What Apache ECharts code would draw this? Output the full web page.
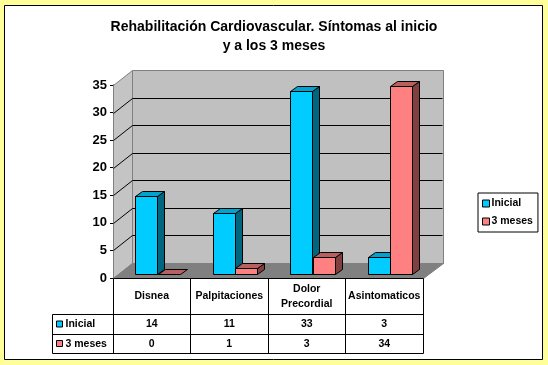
<!DOCTYPE html>
<html><head><meta charset="utf-8">
<style>html,body{margin:0;padding:0;background:#FFFF99}#c{width:548px;height:365px}</style>
<script src="https://cdn.jsdelivr.net/npm/echarts@6/dist/echarts.min.js"></script>
</head><body><div id="c"></div>
<script>
const categories = ['Disnea', 'Palpitaciones', 'Dolor\nPrecordial', 'Asintomaticos'];
const inicial = [14, 11, 33, 3];
const tresMeses = [0, 1, 3, 34];
const titleText = 'Rehabilitación Cardiovascular. Síntomas al inicio\ny a los 3 meses';
const seriesNames = ['Inicial', '3 meses'];
const yTicks = [0, 5, 10, 15, 20, 25, 30, 35];

const FONT = '"Liberation Sans", Arial, sans-serif';
const COL = {
  blue: { front: '#00CCFF', top: '#00A3CC', side: '#006680' },
  pink: { front: '#FF8080', top: '#B86060', side: '#804040' }
};
const DX = 19, DY = 15;              // wall depth
const BAR_W = 22.4, BD_X = 7, BD_Y = 5, BAR_OX = 6, BAR_OY = 4;

const chart = echarts.init(document.getElementById('c'), null, { renderer: 'canvas' });

function ln(x1, y1, x2, y2, stroke, w) {
  return { type: 'line', silent: true, shape: { x1, y1, x2, y2 }, style: { stroke, lineWidth: w || 1 } };
}
function poly(points, fill, stroke) {
  return { type: 'polygon', silent: true, shape: { points }, style: { fill, stroke: stroke || 'none', lineWidth: 1 } };
}
function txt(x, y, text, extra) {
  return { type: 'text', silent: true, style: Object.assign({ x, y, text, fill: '#000', font: 'bold 10.5px ' + FONT, align: 'center', verticalAlign: 'middle' }, extra || {}) };
}
const px = v => Math.round(v) + 0.5;

function renderBackdrop(params, api) {
  const o = api.coord([0, 0]), band = api.size([1, 0])[0];
  const x0 = px(o[0] - band / 2), y0 = px(o[1]);
  const yTop = px(api.coord([0, 35])[1]);
  const colX = i => Math.floor(x0 + band * i - 0.5) + 0.5;
  const x1 = colX(4);
  const wallR = x1 + DX + 1;
  const kids = [];
  kids.push(poly([[x0, yTop], [x0 + DX, yTop - DY], [x0 + DX, y0 - DY], [x0, y0]], '#C4C4C4', '#808080'));
  kids.push({ type: 'rect', silent: true, shape: { x: x0 + DX, y: yTop - DY, width: wallR - x0 - DX, height: y0 - yTop }, style: { fill: '#C0C0C0', stroke: '#808080', lineWidth: 1 } });
  kids.push(poly([[x0, y0], [x1, y0], [wallR, y0 - DY], [x0 + DX, y0 - DY]], '#808080', '#808080'));
  yTicks.forEach(t => {
    if (t === 0 || t === 35) return;
    const y = px(api.coord([0, t])[1]);
    kids.push(ln(x0, y, x0 + DX, y - DY, '#000'));
    kids.push(ln(x0 + DX, y - DY, wallR - 1, y - DY, '#000'));
  });
  // data table
  const r1 = y0 + 36, r2 = r1 + 20, r3 = r2 + 19, xl = px(x0 - 62);
  kids.push(ln(x0, y0, x1, y0, '#000'));
  kids.push(ln(xl, r1, x1, r1, '#000'));
  kids.push(ln(xl, r2, x1, r2, '#000'));
  kids.push(ln(xl, r3, x1, r3, '#000'));
  kids.push(ln(xl, r1, xl, r3, '#000'));
  for (let i = 0; i <= 4; i++) {
    const x = colX(i);
    kids.push(ln(x, y0, x, r3, '#000'));
  }
  categories.forEach((c, i) => {
    const cx = api.coord([i, 0])[0];
    kids.push(txt(cx, (r1 + r2) / 2, String(inicial[i])));
    kids.push(txt(cx, (r2 + r3) / 2, String(tresMeses[i])));
  });
  [[seriesNames[0], COL.blue.front, r1, r2], [seriesNames[1], COL.pink.front, r2, r3]].forEach(r => {
    const my = (r[2] + r[3]) / 2;
    kids.push({ type: 'rect', silent: true, shape: { x: xl + 4, y: my - 3.5, width: 6, height: 6 }, style: { fill: r[1], stroke: '#000', lineWidth: 1 } });
    kids.push(txt(xl + 13, my, r[0], { align: 'left' }));
  });
  return { type: 'group', children: kids };
}

function barRenderer(col, slot) {
  return function (params, api) {
    const i = api.value(0), v = api.value(1);
    const base = api.coord([i, 0]), top = api.coord([i, v]);
    const xl = Math.round(base[0] + BAR_OX + (slot === 0 ? -BAR_W : 0)) + 0.5;
    const xr = xl + Math.round(BAR_W);
    const yb = px(base[1] - BAR_OY);
    const yt = v > 0 ? Math.floor(top[1] - BAR_OY - 0.3) + 0.5 : yb;
    const kids = [];
    if (v > 0) {
      kids.push(poly([[xr, yt], [xr + BD_X, yt - BD_Y], [xr + BD_X, yb - BD_Y], [xr, yb]], col.side, '#000'));
      kids.push({ type: 'rect', silent: true, shape: { x: xl, y: yt, width: xr - xl, height: yb - yt }, style: { fill: col.front, stroke: '#000', lineWidth: 1 } });
    }
    kids.push(poly([[xl, yt], [xl + BD_X, yt - BD_Y], [xr + BD_X, yt - BD_Y], [xr, yt]], col.top, '#000'));
    return { type: 'group', children: kids };
  };
}

chart.setOption({
  animation: false,
  backgroundColor: '#FFFF99',
  graphic: [{
    type: 'rect', z: -1, silent: true,
    shape: { x: 4.5, y: 5.5, width: 538, height: 354 },
    style: { fill: '#fff', stroke: '#000', lineWidth: 1 }
  }],
  title: {
    text: titleText, left: 269, top: 13, textAlign: 'center',
    textStyle: { fontFamily: FONT, fontWeight: 'bold', fontSize: 14, lineHeight: 19, color: '#000' }
  },
  legend: {
    left: 478, top: 193, orient: 'vertical', padding: [5, 5, 5, 4], itemGap: 7, itemWidth: 7, itemHeight: 7,
    backgroundColor: '#fff', borderColor: '#000', borderWidth: 1, borderRadius: 0,
    data: seriesNames.map(name => ({ name, icon: 'rect' })),
    itemStyle: { borderColor: '#000', borderWidth: 1 },
    textStyle: { fontFamily: FONT, fontWeight: 'bold', fontSize: 10.5, color: '#000', padding: [0, 0, 0, -3] }
  },
  grid: { left: 113, top: 85, width: 310, height: 193, containLabel: false },
  xAxis: {
    type: 'category', data: categories,
    axisLine: { show: false }, axisTick: { show: false }, splitLine: { show: false },
    axisLabel: {
      interval: 0, margin: 18.5, verticalAlign: 'middle', color: '#000', hideOverlap: false,
      fontFamily: FONT, fontWeight: 'bold', fontSize: 10.5, lineHeight: 15
    }
  },
  yAxis: {
    type: 'value', min: 0, max: 35, interval: 5,
    axisLine: { show: true, lineStyle: { color: '#000' } },
    axisTick: { show: true, length: 3, lineStyle: { color: '#000' } },
    splitLine: { show: false },
    axisLabel: { margin: 6, color: '#000', fontFamily: FONT, fontWeight: 'bold', fontSize: 13 }
  },
  series: [
    { type: 'custom', name: 'backdrop', silent: true, z: 1, renderItem: renderBackdrop, data: [[0, 0]], encode: { x: 0, y: 1 } },
    { type: 'custom', name: seriesNames[0], z: 2, renderItem: barRenderer(COL.blue, 0), itemStyle: { color: COL.blue.front },
      data: inicial.map((v, i) => [i, v]), encode: { x: 0, y: 1 } },
    { type: 'custom', name: seriesNames[1], z: 3, renderItem: barRenderer(COL.pink, 1), itemStyle: { color: COL.pink.front },
      data: tresMeses.map((v, i) => [i, v]), encode: { x: 0, y: 1 } }
  ]
});
</script></body></html>
